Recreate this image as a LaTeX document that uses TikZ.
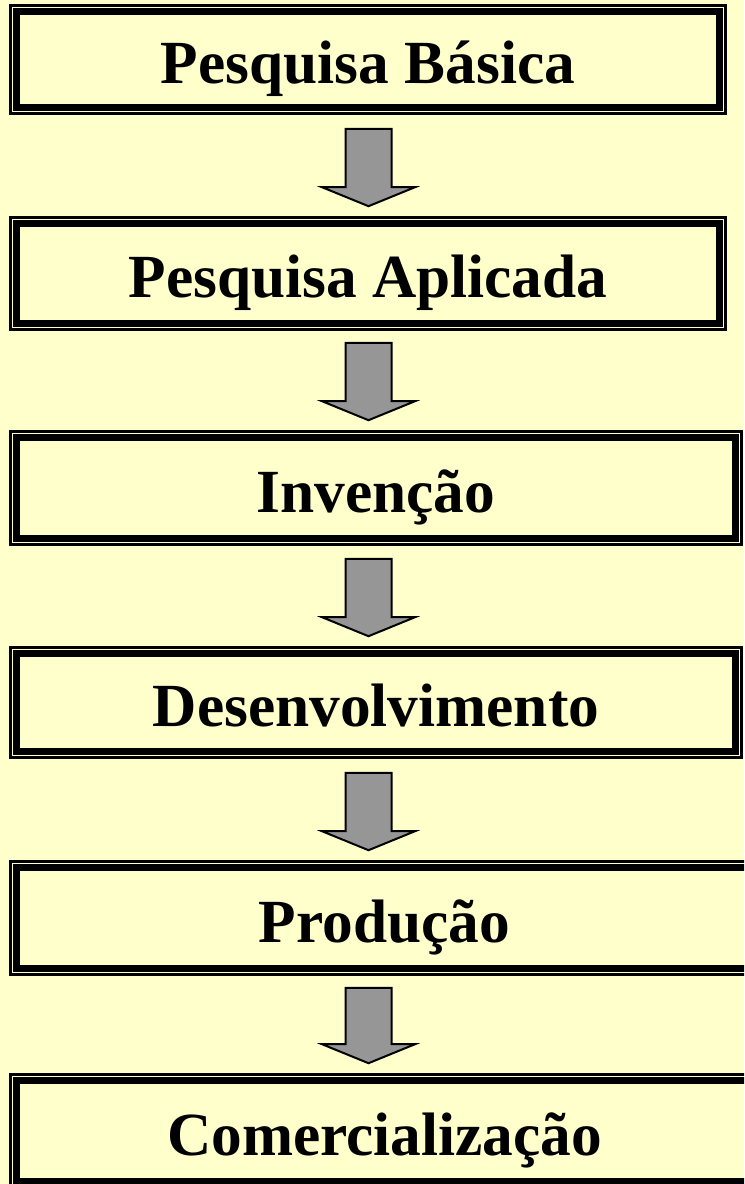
\documentclass[tikz,border=0pt]{standalone}
\usepackage{fontspec}
\setmainfont{Liberation Serif}
\usetikzlibrary{calc}
\definecolor{paper}{RGB}{255,255,204}
\definecolor{arrowgray}{RGB}{150,150,150}

\begin{document}
\begin{tikzpicture}[x=0.75pt,y=0.75pt,yscale=-1,xscale=1,
  stagebox/.style={draw, line width=5.25pt, inner sep=0pt, text height=36pt, text depth=0pt, font=\fontsize{46}{55}\selectfont\bfseries},
  outerframe/.style={draw, line width=1.95pt},
  blockarrow/.style={draw, line width=1.5, fill=arrowgray, line join=miter}]
%set diagram size: 744 x 1184
\clip (0,0) rectangle (744,1184);
\fill [paper] (0,0) rectangle (744,1184);

% Stage Node
\node [stagebox, minimum width=526.95pt, minimum height=71.7pt] (basica) at (368,59.5) {Pesquisa Básica};
% Stage Node
\node [stagebox, minimum width=526.95pt, minimum height=74.7pt] (aplicada) at (368,273.5) {Pesquisa Aplicada};
% Stage Node
\node [stagebox, minimum width=538.95pt, minimum height=75.45pt] (invencao) at (376,488) {Invenção};
% Stage Node
\node [stagebox, minimum width=538.95pt, minimum height=73.2pt] (desenv) at (376,702.5) {Desenvolvimento};
% Stage Node
\node [stagebox, minimum width=551.7pt, minimum height=75.45pt] (producao) at (384.5,918) {Produção};
% Stage Node
\node [stagebox, minimum width=551.7pt, minimum height=75.45pt] (comerc) at (384.5,1131) {Comercialização};

%Thin outer frames
\draw [outerframe] ([shift={(-2.9,-2.9)}]basica.north west) rectangle ([shift={(2.9,2.9)}]basica.south east);
\draw [outerframe] ([shift={(-2.9,-2.9)}]aplicada.north west) rectangle ([shift={(2.9,2.9)}]aplicada.south east);
\draw [outerframe] ([shift={(-2.9,-2.9)}]invencao.north west) rectangle ([shift={(2.9,2.9)}]invencao.south east);
\draw [outerframe] ([shift={(-2.9,-2.9)}]desenv.north west) rectangle ([shift={(2.9,2.9)}]desenv.south east);
\draw [outerframe] ([shift={(-2.9,-2.9)}]producao.north west) rectangle ([shift={(2.9,2.9)}]producao.south east);
\draw [outerframe] ([shift={(-2.9,-2.9)}]comerc.north west) rectangle ([shift={(2.9,2.9)}]comerc.south east);

\coordinate (axis) at (368.5,0);
%Block Arrow
\draw [blockarrow] ($(basica.south -| axis)+(-23,18)$) -- ($(basica.south -| axis)+(23,18)$) -- ($(aplicada.north -| axis)+(23,-33)$) -- ($(aplicada.north -| axis)+(46.5,-33)$) -- ($(aplicada.north -| axis)+(0,-14)$) -- ($(aplicada.north -| axis)+(-46.5,-33)$) -- ($(aplicada.north -| axis)+(-23,-33)$) -- cycle;
%Block Arrow
\draw [blockarrow] ($(aplicada.south -| axis)+(-23,16)$) -- ($(aplicada.south -| axis)+(23,16)$) -- ($(invencao.north -| axis)+(23,-33)$) -- ($(invencao.north -| axis)+(46.5,-33)$) -- ($(invencao.north -| axis)+(0,-14)$) -- ($(invencao.north -| axis)+(-46.5,-33)$) -- ($(invencao.north -| axis)+(-23,-33)$) -- cycle;
%Block Arrow
\draw [blockarrow] ($(invencao.south -| axis)+(-23,17)$) -- ($(invencao.south -| axis)+(23,17)$) -- ($(desenv.north -| axis)+(23,-33)$) -- ($(desenv.north -| axis)+(46.5,-33)$) -- ($(desenv.north -| axis)+(0,-14)$) -- ($(desenv.north -| axis)+(-46.5,-33)$) -- ($(desenv.north -| axis)+(-23,-33)$) -- cycle;
%Block Arrow
\draw [blockarrow] ($(desenv.south -| axis)+(-23,18)$) -- ($(desenv.south -| axis)+(23,18)$) -- ($(producao.north -| axis)+(23,-33)$) -- ($(producao.north -| axis)+(46.5,-33)$) -- ($(producao.north -| axis)+(0,-14)$) -- ($(producao.north -| axis)+(-46.5,-33)$) -- ($(producao.north -| axis)+(-23,-33)$) -- cycle;
%Block Arrow
\draw [blockarrow] ($(producao.south -| axis)+(-23,16)$) -- ($(producao.south -| axis)+(23,16)$) -- ($(comerc.north -| axis)+(23,-33)$) -- ($(comerc.north -| axis)+(46.5,-33)$) -- ($(comerc.north -| axis)+(0,-14)$) -- ($(comerc.north -| axis)+(-46.5,-33)$) -- ($(comerc.north -| axis)+(-23,-33)$) -- cycle;

\end{tikzpicture}
\end{document}
